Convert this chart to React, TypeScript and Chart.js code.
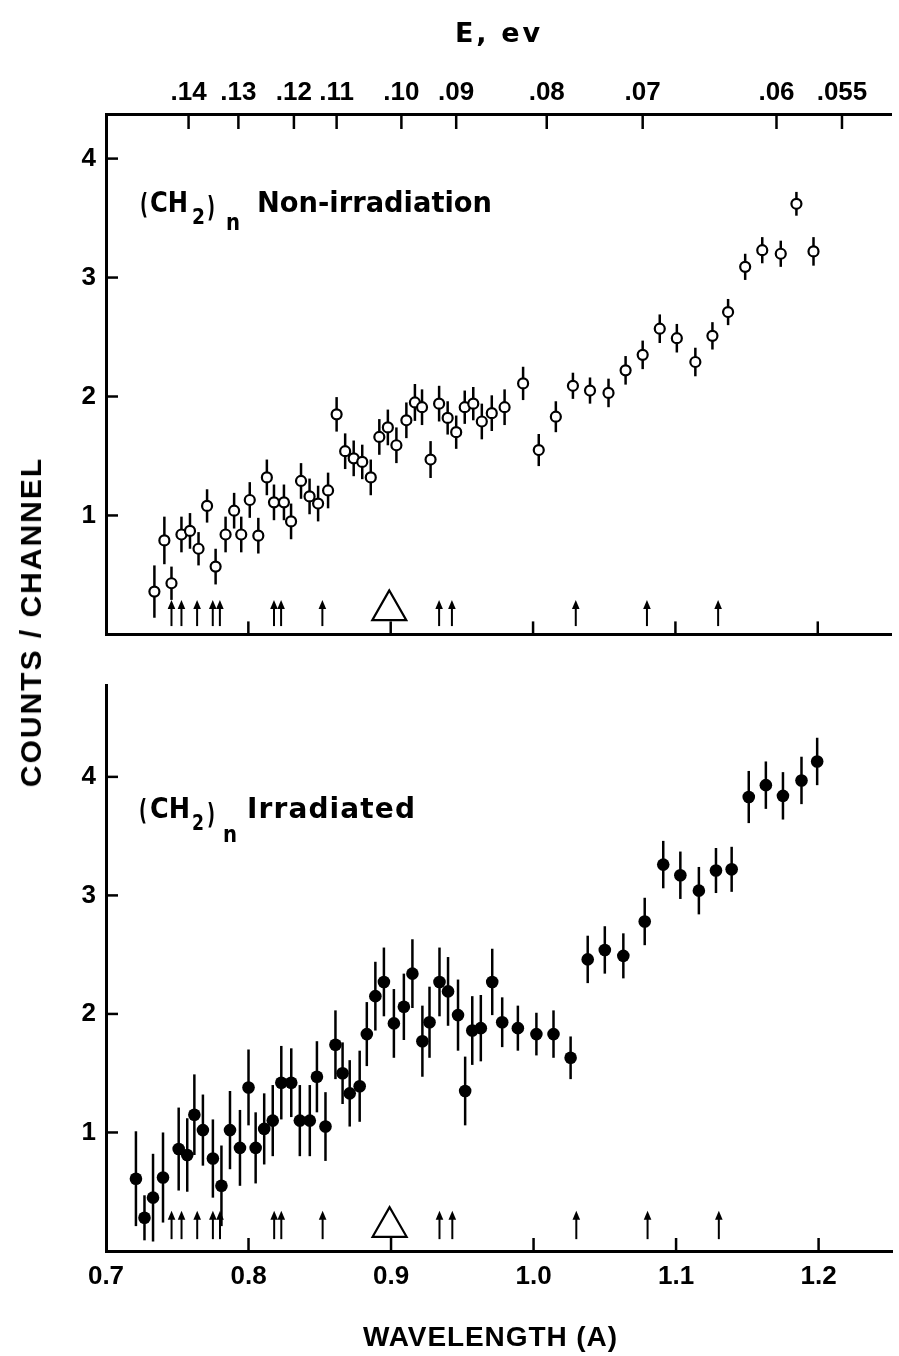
import React, { useEffect, useRef } from 'react';
import { Chart, registerables } from 'chart.js';

Chart.register(...registerables);

const FONT = '"Liberation Sans", Arial, sans-serif';
const LABEL_FONT = '"DejaVu Sans", "Liberation Sans", sans-serif';

// Wavelength axis (Å)
const xTickValues = [0.7, 0.8, 0.9, 1.0, 1.1, 1.2];
const xTickLabels = ['0.7', '0.8', '0.9', '1.0', '1.1', '1.2'];
// Counts / channel axis
const yTickValues = [1, 2, 3, 4];
const yTickLabels = ['1', '2', '3', '4'];
// Top energy axis (eV), labels at the wavelength where each tick is drawn
const energyTickLabels = ['.14', '.13', '.12', '.11', '.10', '.09', '.08', '.07', '.06', '.055'];
const energyTickWavelengths = [0.758, 0.793, 0.832, 0.862, 0.9075, 0.946, 1.0096, 1.077, 1.171, 1.217];

// (CH2)n non-irradiation
const topWavelength = [
  0.734, 0.741, 0.746, 0.753, 0.759, 0.765, 0.771, 0.777, 0.784, 0.790,
  0.795, 0.801, 0.807, 0.813, 0.818, 0.825, 0.830, 0.837, 0.843, 0.849,
  0.856, 0.862, 0.868, 0.874, 0.880, 0.886, 0.892, 0.898, 0.904, 0.911,
  0.917, 0.922, 0.928, 0.934, 0.940, 0.946, 0.952, 0.958, 0.964, 0.971,
  0.980, 0.993, 1.004, 1.016, 1.028, 1.040, 1.053, 1.065, 1.077, 1.089,
  1.101, 1.114, 1.126, 1.137, 1.149, 1.161, 1.174, 1.185, 1.197,
];
const topCounts = [
  0.36, 0.79, 0.43, 0.84, 0.87, 0.72, 1.08, 0.57, 0.84, 1.04,
  0.84, 1.13, 0.83, 1.32, 1.11, 1.11, 0.95, 1.29, 1.16, 1.10,
  1.21, 1.85, 1.54, 1.48, 1.45, 1.32, 1.66, 1.74, 1.59, 1.80,
  1.95, 1.91, 1.47, 1.94, 1.82, 1.70, 1.91, 1.94, 1.79, 1.86,
  1.91, 2.11, 1.55, 1.83, 2.09, 2.05, 2.03, 2.22, 2.35, 2.57,
  2.49, 2.29, 2.51, 2.71, 3.09, 3.23, 3.20, 3.62, 3.22,
];
const topError = [
  0.22, 0.20, 0.14, 0.15, 0.15, 0.14, 0.14, 0.15, 0.15, 0.15,
  0.15, 0.15, 0.15, 0.15, 0.15, 0.15, 0.15, 0.15, 0.15, 0.15,
  0.15, 0.145, 0.15, 0.15, 0.145, 0.15, 0.15, 0.15, 0.15, 0.15,
  0.155, 0.15, 0.155, 0.15, 0.14, 0.14, 0.14, 0.14, 0.15, 0.15,
  0.15, 0.14, 0.135, 0.13, 0.11, 0.11, 0.12, 0.12, 0.12, 0.12,
  0.12, 0.12, 0.115, 0.11, 0.11, 0.11, 0.11, 0.10, 0.12,
];

// (CH2)n irradiated
const botWavelength = [
  0.721, 0.727, 0.733, 0.740, 0.751, 0.757, 0.762, 0.768, 0.775, 0.781,
  0.787, 0.794, 0.800, 0.805, 0.811, 0.817, 0.823, 0.830, 0.836, 0.843,
  0.848, 0.854, 0.861, 0.866, 0.871, 0.878, 0.883, 0.889, 0.895, 0.902,
  0.909, 0.915, 0.922, 0.927, 0.934, 0.940, 0.947, 0.952, 0.957, 0.963,
  0.971, 0.978, 0.989, 1.002, 1.014, 1.026, 1.038, 1.050, 1.063, 1.078,
  1.091, 1.103, 1.116, 1.128, 1.139, 1.151, 1.163, 1.175, 1.188, 1.199,
];
const botCounts = [
  0.61, 0.28, 0.45, 0.62, 0.86, 0.81, 1.15, 1.02, 0.78, 0.55,
  1.02, 0.87, 1.38, 0.87, 1.03, 1.10, 1.42, 1.42, 1.10, 1.10,
  1.47, 1.05, 1.74, 1.50, 1.33, 1.39, 1.83, 2.15, 2.27, 1.92,
  2.06, 2.34, 1.77, 1.93, 2.27, 2.19, 1.99, 1.35, 1.86, 1.88,
  2.27, 1.93, 1.88, 1.83, 1.83, 1.63, 2.46, 2.54, 2.49, 2.78,
  3.26, 3.17, 3.04, 3.21, 3.22, 3.83, 3.93, 3.84, 3.97, 4.13,
];
const botError = [
  0.40, 0.19, 0.37, 0.38, 0.35, 0.31, 0.34, 0.30, 0.33, 0.34,
  0.33, 0.32, 0.32, 0.30, 0.30, 0.30, 0.31, 0.29, 0.30, 0.30,
  0.30, 0.29, 0.29, 0.26, 0.28, 0.30, 0.27, 0.29, 0.29, 0.29,
  0.28, 0.29, 0.30, 0.30, 0.29, 0.29, 0.30, 0.29, 0.29, 0.28,
  0.28, 0.21, 0.19, 0.18, 0.20, 0.18, 0.20, 0.20, 0.19, 0.20,
  0.20, 0.20, 0.20, 0.19, 0.19, 0.22, 0.20, 0.20, 0.20, 0.20,
];

// Marked positions along the baseline (arrows) and the open triangle
const arrowWavelengths = [0.746, 0.753, 0.764, 0.775, 0.780, 0.818, 0.823, 0.852, 0.934, 0.943, 1.030, 1.080, 1.130];
const triangleWavelength = 0.899;

const X_MIN = 0.7;
const X_MAX = 1.252;

function fitText(ctx: any, text: string, x0: number, x1: number, baseline: number, font: string) {
  ctx.save();
  ctx.font = font;
  ctx.textAlign = 'left';
  ctx.textBaseline = 'alphabetic';
  ctx.fillStyle = '#000';
  ctx.letterSpacing = '0px';
  const w = ctx.measureText(text).width;
  const target = x1 - x0;
  if (text.length > 1 && target > w) {
    ctx.letterSpacing = ((target - w) / (text.length - 1)).toFixed(2) + 'px';
    ctx.fillText(text, x0, baseline);
    ctx.letterSpacing = '0px';
  } else {
    ctx.translate(x0, baseline);
    ctx.scale(target / w, 1);
    ctx.fillText(text, 0, 0);
  }
  ctx.restore();
}

type LabelSpec = {
  base: number;
  open: number; ch: [number, number]; two: [number, number]; twoBase: number;
  close: number; closeBase: number; n: [number, number]; nBase: number;
  rest: string; restX: [number, number];
};

function drawChemLabel(ctx: any, s: LabelSpec) {
  const main = `bold 28px ${LABEL_FONT}`;
  fitText(ctx, '(', s.open, s.open + 8, s.base + 2, main);
  fitText(ctx, 'CH', s.ch[0], s.ch[1], s.base, main);
  fitText(ctx, '2', s.two[0], s.two[1], s.twoBase, `bold 21px ${LABEL_FONT}`);
  fitText(ctx, ')', s.close, s.close + 8, s.closeBase, main);
  fitText(ctx, 'n', s.n[0], s.n[1], s.nBase, `bold 23px ${LABEL_FONT}`);
  fitText(ctx, s.rest, s.restX[0], s.restX[1], s.base, main);
}

function makeDecor(isTop: boolean) {
  const xs = isTop ? topWavelength : botWavelength;
  const ys = isTop ? topCounts : botCounts;
  const es = isTop ? topError : botError;
  const arrowBase = isTop ? 0.07 : 0.1;
  const arrowTip = isTop ? 0.29 : 0.34;
  return {
    id: 'decor' + (isTop ? 'Top' : 'Bottom'),
    beforeDatasetsDraw(chart: any) {
      const { ctx, scales } = chart;
      const x = scales.x, y = scales.y;
      ctx.save();
      ctx.strokeStyle = '#000';
      ctx.lineWidth = 2.5;
      xs.forEach((xv, i) => {
        const px = x.getPixelForValue(xv);
        ctx.beginPath();
        ctx.moveTo(px, y.getPixelForValue(ys[i] - es[i]));
        ctx.lineTo(px, y.getPixelForValue(ys[i] + es[i]));
        ctx.stroke();
      });
      ctx.restore();
    },
    afterDatasetsDraw(chart: any) {
      const { ctx, scales } = chart;
      const x = scales.x, y = scales.y;
      ctx.save();
      ctx.strokeStyle = '#000';
      ctx.fillStyle = '#000';
      // arrows
      arrowWavelengths.forEach((w) => {
        const px = x.getPixelForValue(w);
        const yb = y.getPixelForValue(arrowBase);
        const yt = y.getPixelForValue(arrowTip);
        ctx.lineWidth = 2;
        ctx.beginPath();
        ctx.moveTo(px, yb);
        ctx.lineTo(px, yt + 6);
        ctx.stroke();
        ctx.beginPath();
        ctx.moveTo(px, yt);
        ctx.lineTo(px - 3.8, yt + 9);
        ctx.lineTo(px + 3.8, yt + 9);
        ctx.closePath();
        ctx.fill();
      });
      // open triangle
      const tx = x.getPixelForValue(triangleWavelength);
      const ta = y.getPixelForValue(0.37);
      const tb = y.getPixelForValue(0.12);
      ctx.lineWidth = 2.2;
      ctx.lineJoin = 'miter';
      ctx.beginPath();
      ctx.moveTo(tx, ta);
      ctx.lineTo(tx - 17, tb);
      ctx.lineTo(tx + 17, tb);
      ctx.closePath();
      ctx.stroke();
      ctx.restore();
    },
    afterDraw(chart: any) {
      const { ctx, scales, chartArea } = chart;
      const x = scales.x, y = scales.y;
      ctx.save();
      ctx.strokeStyle = '#000';
      ctx.lineWidth = 2.5;
      // inward ticks, bottom axis
      xTickValues.forEach((v) => {
        if (v <= X_MIN) return;
        const px = x.getPixelForValue(v);
        ctx.beginPath();
        ctx.moveTo(px, chartArea.bottom);
        ctx.lineTo(px, chartArea.bottom - 13);
        ctx.stroke();
      });
      // inward ticks, left axis
      yTickValues.forEach((v) => {
        const py = y.getPixelForValue(v);
        ctx.beginPath();
        ctx.moveTo(chartArea.left, py);
        ctx.lineTo(chartArea.left + 12, py);
        ctx.stroke();
      });
      if (isTop) {
        const x2 = scales.x2;
        energyTickWavelengths.forEach((v) => {
          const px = x2.getPixelForValue(v);
          ctx.beginPath();
          ctx.moveTo(px, chartArea.top);
          ctx.lineTo(px, chartArea.top + 15);
          ctx.stroke();
        });
        fitText(ctx, 'E, ev', 455, 540, 42, `bold 27px ${LABEL_FONT}`);
        drawChemLabel(ctx, {
          base: 212, open: 140, ch: [150, 188], two: [192, 205], twoBase: 224,
          close: 207, closeBase: 217, n: [226, 240], nBase: 230,
          rest: 'Non-irradiation', restX: [257, 492],
        });
      } else {
        fitText(ctx, 'WAVELENGTH (A)', 363, 617, 686, `bold 28px ${FONT}`);
        drawChemLabel(ctx, {
          base: 158, open: 139, ch: [150, 190], two: [192, 204], twoBase: 170,
          close: 207, closeBase: 164, n: [223, 237], nBase: 182,
          rest: 'Irradiated', restX: [247, 415],
        });
      }
      ctx.restore();
    },
  };
}

function buildChart(canvas: HTMLCanvasElement, isTop: boolean) {
  const xs = isTop ? topWavelength : botWavelength;
  const ys = isTop ? topCounts : botCounts;
  const data = xs.map((xv, i) => ({ x: xv, y: ys[i] }));
  const tickFont = { family: FONT, size: 26, weight: 'bold' as const };
  const border = { display: true, color: '#000', width: 3 };
  const grid = { display: false, drawTicks: false };

  const scales: any = {
    x: {
      type: 'linear',
      position: 'bottom',
      min: X_MIN,
      max: X_MAX,
      grid,
      border,
      afterBuildTicks: (s: any) => { s.ticks = xTickValues.map((v) => ({ value: v })); },
      ticks: {
        display: !isTop,
        font: tickFont,
        color: '#000',
        padding: 10,
        autoSkip: false,
        maxRotation: 0,
        minRotation: 0,
        callback: (_v: any, i: number) => xTickLabels[i],
      },
      afterFit: (s: any) => { s.height = isTop ? 17 : 105; },
    },
    y: {
      type: 'linear',
      position: 'left',
      min: 0,
      max: isTop ? 4.375 : 4.77,
      grid,
      border,
      afterBuildTicks: (s: any) => { s.ticks = yTickValues.map((v) => ({ value: v })); },
      ticks: {
        font: tickFont,
        color: '#000',
        padding: 10,
        callback: (_v: any, i: number) => yTickLabels[i],
      },
      afterFit: (s: any) => { s.width = 106; },
    },
  };
  if (isTop) {
    scales.x2 = {
      type: 'linear',
      position: 'top',
      min: X_MIN,
      max: X_MAX,
      grid,
      border,
      afterBuildTicks: (s: any) => { s.ticks = energyTickWavelengths.map((v) => ({ value: v })); },
      ticks: {
        font: tickFont,
        color: '#000',
        padding: 6,
        autoSkip: false,
        maxRotation: 0,
        minRotation: 0,
        callback: (_v: any, i: number) => energyTickLabels[i],
      },
      afterFit: (s: any) => { s.height = 114; },
    };
  }

  const dataset: any = isTop
    ? {
        label: '(CH2)n Non-irradiation',
        data,
        pointStyle: 'circle',
        pointRadius: 5,
        pointBorderWidth: 2.2,
        pointBorderColor: '#000',
        pointBackgroundColor: '#fff',
        showLine: false,
      }
    : {
        label: '(CH2)n Irradiated',
        data,
        pointStyle: 'circle',
        pointRadius: 6.3,
        pointBorderWidth: 0,
        pointBorderColor: '#000',
        pointBackgroundColor: '#000',
        showLine: false,
      };

  return new Chart(canvas, {
    type: 'scatter',
    data: { datasets: [dataset] },
    options: {
      responsive: false,
      maintainAspectRatio: false,
      animation: false,
      events: [],
      layout: { padding: { top: isTop ? 0 : 10, right: 4, left: 0, bottom: 0 } },
      plugins: {
        legend: { display: false },
        tooltip: { enabled: false },
      },
      scales,
    },
    plugins: [makeDecor(isTop)],
  } as any);
}

export default function App() {
  const topRef = useRef<HTMLCanvasElement>(null);
  const botRef = useRef<HTMLCanvasElement>(null);

  useEffect(() => {
    if (!topRef.current || !botRef.current) return;
    const c1 = buildChart(topRef.current, true);
    const c2 = buildChart(botRef.current, false);
    return () => {
      c1.destroy();
      c2.destroy();
    };
  }, []);

  return (
    <div style={{ position: 'absolute', left: 0, top: 0, width: 899, height: 1356, background: '#fff', overflow: 'hidden' }}>
      <canvas ref={topRef} width={899} height={660} style={{ position: 'absolute', left: 0, top: 0 }} />
      <canvas ref={botRef} width={899} height={696} style={{ position: 'absolute', left: 0, top: 660 }} />
      <div style={{ position: 'absolute', left: 31, top: 622, width: 0, height: 0 }}>
        <div
          style={{
            position: 'absolute',
            left: 0,
            top: 0,
            transform: 'translate(-50%, -50%) rotate(-90deg)',
            whiteSpace: 'nowrap',
            font: `bold 30px ${FONT}`,
            letterSpacing: '2px',
            lineHeight: 1,
            color: '#000',
          }}
        >
          COUNTS / CHANNEL
        </div>
      </div>
    </div>
  );
}
